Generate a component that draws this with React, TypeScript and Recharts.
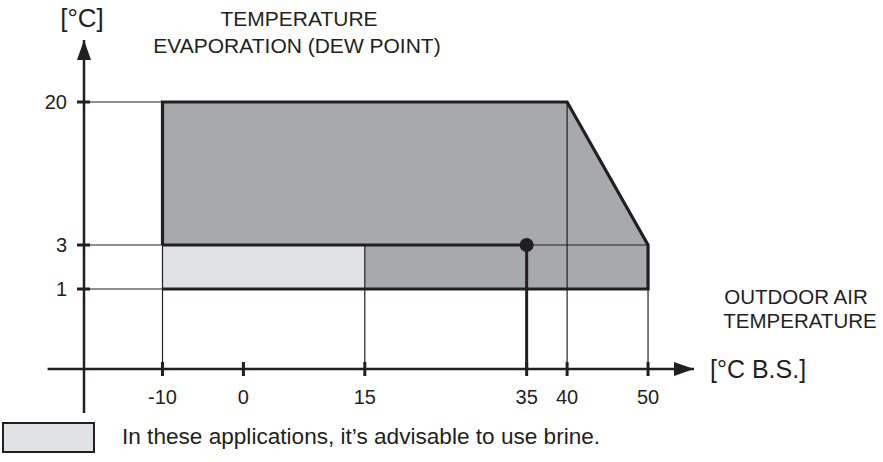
import React from "react"
import { ComposedChart, XAxis, YAxis, Area, Line, ReferenceLine, ReferenceDot } from "recharts"

// outdoor air temperature [°C B.S.]
const xTicks = [-10, 0, 15, 35, 40, 50]
// evaporation temperature (dew point) [°C]
const yTicks = [1, 3, 20]

// operating envelope
const envelopeX = [-10, 40, 50]
const envelopeLow = [1, 1, 1]
const envelopeHigh = [20, 20, 3]

// zone where brine is advisable
const brineX = [-10, 15]
const brineLow = [1, 1]
const brineHigh = [3, 3]

// design point
const pointX = 35
const pointY = 3

const INK = "#231f20"
const DARK = "#a7a9ac"
const LIGHT = "#e1e2e4"
const FONT = "'Liberation Sans', Arial, Helvetica, sans-serif"

// the y axis of the original is not to scale: stretch each band separately
const yStops = [0, 1, 3, 20]
const yStopUnits = [0, 80, 124, 267]
const ys = (v: number) => {
  for (let i = 1; i < yStops.length; i++) {
    if (v <= yStops[i] || i === yStops.length - 1) {
      const t = (v - yStops[i - 1]) / (yStops[i] - yStops[i - 1])
      return yStopUnits[i - 1] + t * (yStopUnits[i] - yStopUnits[i - 1])
    }
  }
  return 0
}

const X_MIN = -19.7
const X_MAX = 55.68
const Y_MAX = 329

const envelopeData = envelopeX.map((x, i) => ({ x, range: [ys(envelopeLow[i]), ys(envelopeHigh[i])] }))
const brineData = brineX.map((x, i) => ({ x, range: [ys(brineLow[i]), ys(brineHigh[i])] }))
const outlineData = [
  { x: brineX[0], y: ys(brineHigh[0]) },
  ...envelopeX.map((x, i) => ({ x, y: ys(envelopeHigh[i]) })),
  { x: envelopeX[envelopeX.length - 1], y: ys(envelopeLow[envelopeLow.length - 1]) },
  { x: envelopeX[0], y: ys(envelopeLow[0]) },
]

// thin leader lines down to the x axis
const dropLines = [
  { x: -10, from: 3 },
  { x: 15, from: 3 },
  { x: 40, from: 20 },
  { x: 50, from: 1 },
]

const XTick = ({ x, y, payload }: any) => (
  <g>
    <line x1={x} x2={x} y1={y - 7} y2={y + 7} stroke={INK} strokeWidth={3} />
    <text x={x} y={y + 28} dy="0.36em" textAnchor="middle" fontSize={20} fill={INK} fontFamily={FONT}>
      {payload.value}
    </text>
  </g>
)

const YTick = ({ x, y, payload }: any) => {
  const idx = yTicks.map(ys).findIndex((u) => Math.abs(u - payload.value) < 0.01)
  return (
    <g>
      <line x1={x - 7} x2={x + 6} y1={y} y2={y} stroke={INK} strokeWidth={3} />
      <text x={x - 17} y={y} dy="0.36em" textAnchor="end" fontSize={20} fill={INK} fontFamily={FONT}>
        {idx >= 0 ? yTicks[idx] : ""}
      </text>
    </g>
  )
}

const ArrowRight = ({ cx, cy }: any) => (
  <polygon points={`${cx},${cy} ${cx - 20},${cy - 7} ${cx - 20},${cy + 7}`} fill={INK} />
)
const ArrowUp = ({ cx, cy }: any) => (
  <polygon points={`${cx},${cy} ${cx - 7},${cy + 20} ${cx + 7},${cy + 20}`} fill={INK} />
)

const label = (text: string, cx: number, cy: number, size: number) => (
  <div
    style={{
      position: "absolute",
      left: cx - 250,
      width: 500,
      top: cy - size / 2,
      fontSize: size,
      lineHeight: `${size}px`,
      textAlign: "center",
      color: INK,
      fontFamily: FONT,
      whiteSpace: "nowrap",
    }}
  >
    {text}
  </div>
)

export default function App() {
  return (
    <div style={{ position: "absolute", left: 0, top: 0, width: 883, height: 462, background: "#fff" }}>
      <ComposedChart width={883} height={462} margin={{ top: 40, right: 189, bottom: 63, left: 0 }}>
        <XAxis
          type="number"
          dataKey="x"
          domain={[X_MIN, X_MAX]}
          ticks={xTicks}
          interval={0}
          allowDataOverflow
          height={30}
          tickSize={0}
          tickMargin={0}
          tickLine={false}
          axisLine={{ stroke: INK, strokeWidth: 2.5 }}
          tick={<XTick />}
        />
        <YAxis
          type="number"
          domain={[0, Y_MAX]}
          ticks={yTicks.map(ys)}
          interval={0}
          allowDataOverflow
          width={84}
          tickSize={0}
          tickMargin={0}
          tickLine={false}
          axisLine={{ stroke: INK, strokeWidth: 2.5 }}
          tick={<YTick />}
        />
        <Area
          data={envelopeData}
          dataKey="range"
          type="linear"
          stroke="none"
          fill={DARK}
          fillOpacity={1}
          isAnimationActive={false}
        />
        <Area
          data={brineData}
          dataKey="range"
          type="linear"
          stroke="none"
          fill={LIGHT}
          fillOpacity={1}
          isAnimationActive={false}
        />
        {yTicks.map((v) => (
          <ReferenceLine
            key={`h${v}`}
            segment={[{ x: X_MIN, y: ys(v) }, { x: envelopeX[0], y: ys(v) }]}
            stroke={INK}
            strokeWidth={1.2}
          />
        ))}
        {dropLines.map((d) => (
          <ReferenceLine
            key={`v${d.x}`}
            segment={[{ x: d.x, y: ys(d.from) }, { x: d.x, y: 0 }]}
            stroke={INK}
            strokeWidth={1.2}
          />
        ))}
        <ReferenceLine
          segment={[{ x: pointX, y: ys(pointY) }, { x: envelopeX[2], y: ys(pointY) }]}
          stroke={INK}
          strokeWidth={1.2}
        />
        <ReferenceLine
          segment={[{ x: brineX[0], y: ys(pointY) }, { x: pointX, y: ys(pointY) }]}
          stroke={INK}
          strokeWidth={3}
        />
        <ReferenceLine
          segment={[{ x: pointX, y: ys(pointY) }, { x: pointX, y: 0 }]}
          stroke={INK}
          strokeWidth={3}
        />
        <Line
          data={outlineData}
          dataKey="y"
          type="linear"
          stroke={INK}
          strokeWidth={3.2}
          dot={false}
          isAnimationActive={false}
        />
        <ReferenceLine
          segment={[{ x: -24.2, y: 0 }, { x: X_MIN, y: 0 }]}
          ifOverflow="visible"
          stroke={INK}
          strokeWidth={2.5}
        />
        <ReferenceLine
          segment={[{ x: X_MIN, y: 0 }, { x: X_MIN, y: -44 }]}
          ifOverflow="visible"
          stroke={INK}
          strokeWidth={2.5}
        />
        <ReferenceDot x={pointX} y={ys(pointY)} r={7} fill={INK} stroke="none" />
        <ReferenceDot x={X_MAX} y={0} shape={<ArrowRight />} />
        <ReferenceDot x={X_MIN} y={Y_MAX} shape={<ArrowUp />} />
      </ComposedChart>
      {label("[°C]", 82, 18, 26)}
      {label("TEMPERATURE", 299, 18, 21)}
      {label("EVAPORATION (DEW POINT)", 297, 45, 21)}
      {label("OUTDOOR AIR", 796, 297, 20.5)}
      {label("TEMPERATURE", 800, 321, 20.5)}
      <div
        style={{
          position: "absolute",
          left: 710,
          top: 369 - 13,
          fontSize: 25,
          lineHeight: "26px",
          color: INK,
          fontFamily: FONT,
          whiteSpace: "nowrap",
        }}
      >
        [°C B.S.]
      </div>
      <div
        style={{
          position: "absolute",
          left: 2,
          top: 422,
          width: 93,
          height: 31,
          boxSizing: "border-box",
          border: `2.5px solid ${INK}`,
          background: LIGHT,
        }}
      />
      <div
        style={{
          position: "absolute",
          left: 122,
          top: 437 - 11,
          fontSize: 22.6,
          lineHeight: "22px",
          color: INK,
          fontFamily: FONT,
          whiteSpace: "nowrap",
        }}
      >
        In these applications, it’s advisable to use brine.
      </div>
    </div>
  )
}
